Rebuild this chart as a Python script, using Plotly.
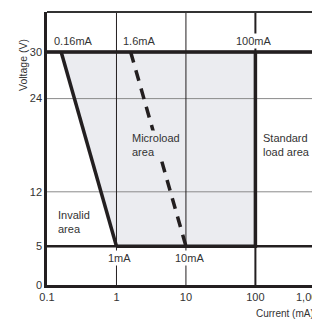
import numpy as np
import plotly.graph_objects as go

# data
current_ticks = [0.1, 1, 10, 100]
voltage_ticks = [0, 5, 12, 24, 30]
region_current = [0.16, 1, 100, 100, 0.16]
region_voltage = [30, 5, 5, 30, 30]
invalid_current = [0.16, 1]
invalid_voltage = [30, 5]
micro_current = [1.6, 10]
micro_voltage = [30, 5]

INK = "#231f20"
SHADE = "#ebecf0"
FONT = "Arial"

fig = go.Figure()

# shaded microload/standard area
fig.add_trace(go.Scatter(x=region_current, y=region_voltage, fill="toself",
                         fillcolor=SHADE, line=dict(width=0), mode="lines",
                         hoverinfo="skip"))

# horizontal grid
for v in voltage_ticks[1:]:
    heavy = v in (5, 30)
    fig.add_trace(go.Scatter(x=[0.1, 1000], y=[v, v], mode="lines",
                             line=dict(color=INK if heavy else "#8a8a8a",
                                       width=2.5 if heavy else 1)))
# vertical grid
for c in current_ticks[1:]:
    fig.add_trace(go.Scatter(x=[c, c], y=[0, 40], mode="lines",
                             line=dict(color=INK, width=2 if c == 100 else 1)))

# boundaries
fig.add_trace(go.Scatter(x=invalid_current, y=invalid_voltage, mode="lines",
                         line=dict(color=INK, width=3.5)))
fig.add_trace(go.Scatter(x=micro_current, y=micro_voltage, mode="lines",
                         line=dict(color=INK, width=3.5, dash="11px,8px")))
fig.add_trace(go.Scatter(x=[1, 100, 100], y=[5, 5, 30], mode="lines",
                         line=dict(color=INK, width=3.5)))
fig.add_trace(go.Scatter(x=[0.1, 1000], y=[30, 30], mode="lines",
                         line=dict(color=INK, width=3.5)))


def px(xp, yp):
    # page pixels -> paper coords (plot area spans x 47..320, y 12..285)
    return (xp - 47) / 273, (285 - yp) / 273


def label(text, xp, yp, bg=None, anchor="center", size=11):
    x, y = px(xp, yp)
    fig.add_annotation(x=x, y=y, xref="paper", yref="paper", text=text,
                       showarrow=False, xanchor=anchor, yanchor="middle",
                       align="left", bgcolor=bg, borderpad=1,
                       font=dict(family=FONT, size=size, color="#333333"))


label("0.16mA", 52, 41, bg="white", anchor="left")
label("1.6mA", 121, 41, bg="white", anchor="left")
label("100mA", 254, 41, bg="white")
label("1mA", 119, 258, bg="white")
label("10mA", 189, 258, bg="white")
label("Microload<br>area", 130, 145, bg=SHADE, anchor="left")
label("Standard<br>load area", 261, 145, anchor="left")
label("Invalid<br>area", 56, 222, anchor="left")
label("1,000", 310, 297)
label("Current (mA)", 254, 313, anchor="left", size=10)

vx, vy = px(15, 37)
fig.add_annotation(x=vx, y=vy, xref="paper", yref="paper", text="Voltage (V)",
                   showarrow=False, textangle=-90,
                   font=dict(family=FONT, size=10.5, color="#333333"))

# page body has an 8px margin, so the figure is 312 wide/high
fig.update_layout(
    width=312, height=312,
    margin=dict(l=39, r=0, t=4, b=35),
    paper_bgcolor="white", plot_bgcolor="white",
    showlegend=False,
    font=dict(family=FONT, size=11, color="#333333"),
    xaxis=dict(type="log", range=[-1, 2.93], tickvals=current_ticks,
               ticktext=["0.1", "1", "10", "100"], showgrid=False,
               zeroline=False, showline=True, linecolor=INK, linewidth=2.5,
               ticks="", mirror=False),
    yaxis=dict(range=[0, 35.15], tickvals=voltage_ticks, showgrid=False,
               zeroline=False, showline=True, linecolor=INK, linewidth=2.5,
               ticks="", ticklen=4),
    shapes=[dict(type="line", xref="paper", yref="paper", x0=0, x1=1, y0=1,
                 y1=1, line=dict(color="#333333", width=2))],
)

fig.write_html("out.html")
